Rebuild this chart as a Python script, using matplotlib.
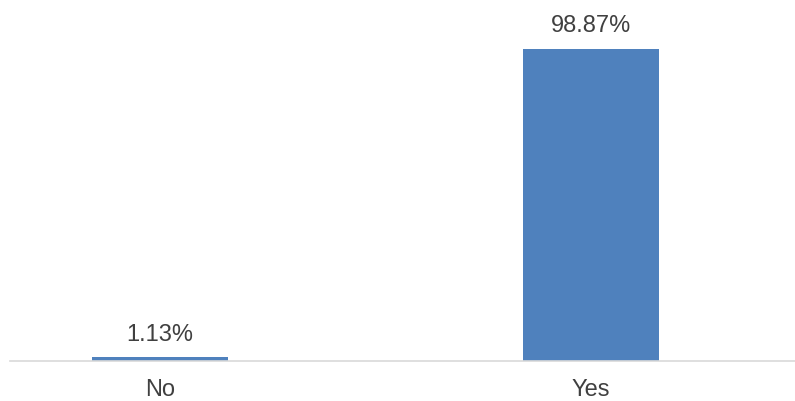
import matplotlib.pyplot as plt

categories = ['No', 'Yes']
percentages = [1.13, 98.87]
value_labels = ['1.13%', '98.87%']

plt.rcParams['font.family'] = ['Liberation Sans', 'DejaVu Sans']

fig = plt.figure(figsize=(7.95, 4.01), dpi=100)
ax = fig.add_axes([10 / 795, 40 / 401, 785 / 795, 351 / 401])

x = list(range(len(categories)))
bars = ax.bar(x, percentages, width=0.316, color='#4f81bd')

for rect, lab in zip(bars, value_labels):
    ax.annotate(lab, (rect.get_x() + rect.get_width() / 2, rect.get_height()),
                xytext=(0, 8.5), textcoords='offset points',
                ha='center', va='bottom', fontsize=17, color='#404040')

ax.set_xlim(-0.348, 1.473)
ax.set_ylim(0, 111.2)
ax.set_xticks(x)
ax.set_xticklabels(categories, fontsize=17, color='#404040')
ax.tick_params(axis='x', length=0, pad=13)
ax.set_yticks([])
for side in ['top', 'right', 'left']:
    ax.spines[side].set_visible(False)
ax.spines['bottom'].set_color('#d9d9d9')
ax.spines['bottom'].set_linewidth(1.2)

fig.savefig('out.png', dpi=100)
